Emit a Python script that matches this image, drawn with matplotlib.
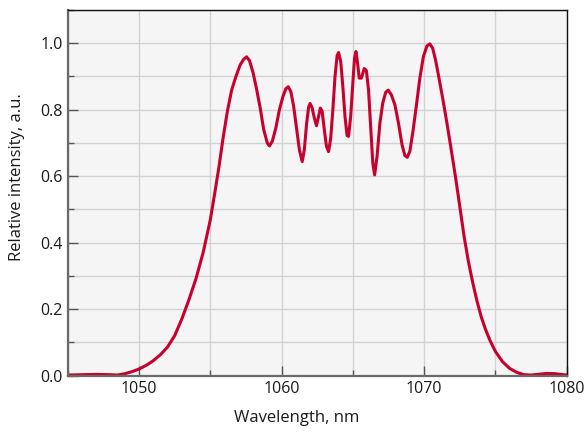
import numpy as np
import matplotlib
matplotlib.use("Agg")
import matplotlib.pyplot as plt
from matplotlib.ticker import MultipleLocator, FormatStrFormatter

# ── Spectrum (nm, a.u.) ───────────────────────────────────────────────────────
wavelength = [
    1045.0, 1046.0, 1047.0, 1048.0, 1048.5, 1049.0, 1049.5, 1050.0,
    1050.5, 1051.0, 1051.5, 1052.0, 1052.5, 1053.0, 1053.5, 1054.0,
    1054.5, 1055.0, 1055.3, 1055.6, 1055.9, 1056.2, 1056.5, 1056.8,
    1057.1, 1057.35, 1057.55, 1057.75, 1058.0, 1058.25, 1058.5, 1058.75,
    1059.0, 1059.15, 1059.35, 1059.6, 1059.85, 1060.1, 1060.3, 1060.47,
    1060.65, 1060.85, 1061.05, 1061.25, 1061.45, 1061.6, 1061.75, 1061.9,
    1062.0, 1062.15, 1062.3, 1062.45, 1062.6, 1062.72, 1062.85, 1063.0,
    1063.15, 1063.3, 1063.45, 1063.6, 1063.75, 1063.9, 1064.0, 1064.15,
    1064.3, 1064.45, 1064.6, 1064.7, 1064.85, 1065.0, 1065.12, 1065.22,
    1065.32, 1065.45, 1065.6, 1065.8, 1065.95, 1066.1, 1066.25, 1066.4,
    1066.53, 1066.7, 1066.9, 1067.1, 1067.3, 1067.48, 1067.7, 1067.95,
    1068.2, 1068.45, 1068.65, 1068.82, 1069.0, 1069.2, 1069.45, 1069.7,
    1069.95, 1070.2, 1070.4, 1070.6, 1070.8, 1071.0, 1071.3, 1071.6,
    1071.9, 1072.2, 1072.5, 1072.8, 1073.1, 1073.4, 1073.7, 1074.0,
    1074.3, 1074.6, 1075.0, 1075.5, 1076.0, 1076.5, 1077.0, 1077.5,
    1078.0, 1078.6, 1079.2, 1080.0,
]
intensity = [
    0.002, 0.003, 0.004, 0.003, 0.002, 0.006, 0.012, 0.020,
    0.031, 0.045, 0.063, 0.086, 0.120, 0.170, 0.228, 0.292,
    0.370, 0.468, 0.545, 0.625, 0.715, 0.795, 0.859, 0.900,
    0.935, 0.952, 0.959, 0.948, 0.912, 0.862, 0.806, 0.740,
    0.700, 0.691, 0.705, 0.745, 0.800, 0.840, 0.863, 0.869,
    0.855, 0.810, 0.745, 0.680, 0.644, 0.680, 0.755, 0.808,
    0.819, 0.805, 0.775, 0.752, 0.780, 0.805, 0.795, 0.740,
    0.690, 0.674, 0.715, 0.800, 0.900, 0.963, 0.972, 0.945,
    0.870, 0.780, 0.722, 0.720, 0.780, 0.880, 0.955, 0.975,
    0.945, 0.895, 0.895, 0.924, 0.918, 0.860, 0.750, 0.640,
    0.604, 0.660, 0.760, 0.820, 0.852, 0.859, 0.845, 0.815,
    0.760, 0.695, 0.662, 0.657, 0.675, 0.730, 0.810, 0.895,
    0.960, 0.992, 0.998, 0.985, 0.950, 0.905, 0.835, 0.760,
    0.680, 0.598, 0.510, 0.420, 0.345, 0.282, 0.226, 0.178,
    0.140, 0.108, 0.073, 0.042, 0.022, 0.010, 0.003, 0.002,
    0.004, 0.007, 0.006, 0.002,
]

plt.rcParams["font.family"] = ["Open Sans", "DejaVu Sans"]

fig = plt.figure(figsize=(5.87, 4.32), dpi=100)
ax = fig.add_axes([0.1153, 0.1303, 0.8501, 0.8466])
ax.set_facecolor("#f5f5f5")

ax.plot(wavelength, intensity, color="#c8002d", lw=2.2,
        solid_joinstyle="round", solid_capstyle="round")

ax.set_xlim(1045, 1080)
ax.set_ylim(0, 1.1)
ax.xaxis.set_major_locator(MultipleLocator(10))
ax.xaxis.set_minor_locator(MultipleLocator(5))
ax.yaxis.set_major_locator(MultipleLocator(0.2))
ax.yaxis.set_minor_locator(MultipleLocator(0.1))
ax.yaxis.set_major_formatter(FormatStrFormatter("%.1f"))

ax.grid(True, which="both", color="#d2d2d2", lw=1.0)
ax.set_axisbelow(True)
ax.tick_params(which="both", direction="in", color="#555555", labelsize=11.5,
               labelcolor="#1a1a1a")
ax.tick_params(which="major", length=7, width=1)
ax.tick_params(which="minor", length=4, width=1)

for side in ("left", "bottom"):
    ax.spines[side].set_color("#6a6a6a")
    ax.spines[side].set_linewidth(1.6)
for side in ("top", "right"):
    ax.spines[side].set_color("#111111")
    ax.spines[side].set_linewidth(1.0)

ax.set_xlabel("Wavelength, nm", fontsize=12, color="#1a1a1a")
ax.set_ylabel("Relative intensity, a.u.", fontsize=12, color="#1a1a1a")
ax.xaxis.label.set_va("center")
ax.yaxis.label.set_va("center")
ax.xaxis.set_label_coords(0.4595, -0.1157)
ax.yaxis.set_label_coords(-0.1016, 0.542)

fig.savefig("out.png", dpi=100)
